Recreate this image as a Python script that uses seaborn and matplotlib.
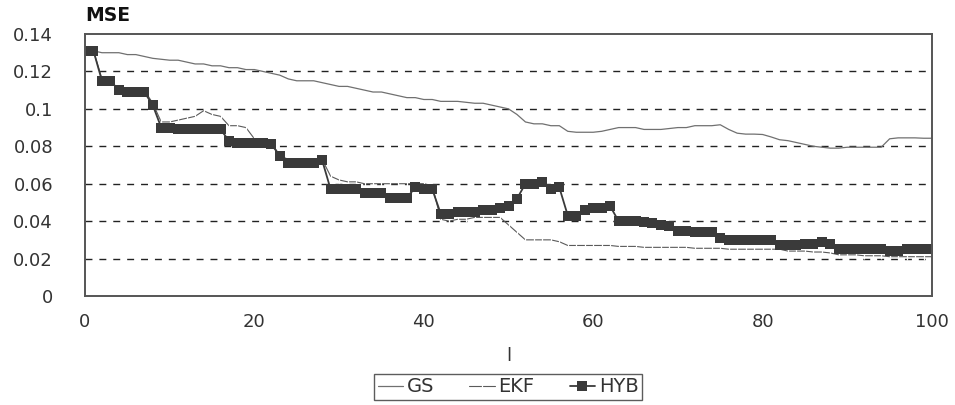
import numpy as np
import pandas as pd
import matplotlib
matplotlib.use("Agg")
import matplotlib.pyplot as plt
import seaborn as sns

x_vals = list(range(0, 101))

gs = [0.131, 0.131, 0.130, 0.130, 0.130, 0.129, 0.129, 0.128, 0.127, 0.1265,
      0.126, 0.126, 0.125, 0.124, 0.124, 0.123, 0.123, 0.122, 0.122, 0.121,
      0.121, 0.120, 0.119, 0.118, 0.116, 0.115, 0.115, 0.115, 0.114, 0.113,
      0.112, 0.112, 0.111, 0.110, 0.109, 0.109, 0.108, 0.107, 0.106, 0.106,
      0.105, 0.105, 0.104, 0.104, 0.104, 0.1035, 0.103, 0.103, 0.102, 0.101,
      0.100, 0.097, 0.093, 0.092, 0.092, 0.091, 0.091, 0.088, 0.0875, 0.0875,
      0.0875, 0.088, 0.089, 0.090, 0.090, 0.090, 0.089, 0.089, 0.089, 0.0895,
      0.090, 0.090, 0.091, 0.091, 0.091, 0.0915, 0.089, 0.087, 0.0865, 0.0865,
      0.0863, 0.085, 0.0835, 0.083, 0.082, 0.081, 0.080, 0.0795, 0.079, 0.079,
      0.0795, 0.0795, 0.0795, 0.0795, 0.0795, 0.084, 0.0845, 0.0845, 0.0845, 0.0843,
      0.0843]

ekf = [0.131, 0.131, 0.116, 0.115, 0.110, 0.110, 0.110, 0.110, 0.103, 0.093,
       0.093, 0.094, 0.095, 0.096, 0.099, 0.097, 0.096, 0.091, 0.091, 0.090,
       0.084, 0.083, 0.082, 0.075, 0.073, 0.073, 0.073, 0.073, 0.073, 0.064,
       0.062, 0.061, 0.061, 0.060, 0.060, 0.060, 0.060, 0.060, 0.060, 0.060,
       0.060, 0.059, 0.041, 0.040, 0.041, 0.041, 0.042, 0.042, 0.042, 0.042,
       0.038, 0.034, 0.030, 0.030, 0.030, 0.030, 0.029, 0.027, 0.027, 0.027,
       0.027, 0.027, 0.027, 0.0265, 0.0265, 0.0265, 0.026, 0.026, 0.026, 0.026,
       0.026, 0.026, 0.0255, 0.0255, 0.0255, 0.0255, 0.025, 0.025, 0.025, 0.025,
       0.025, 0.025, 0.025, 0.024, 0.024, 0.024, 0.0235, 0.0235, 0.023, 0.022,
       0.022, 0.022, 0.0215, 0.0215, 0.0215, 0.021, 0.021, 0.021, 0.021, 0.021,
       0.021]

hyb = [0.131, 0.131, 0.115, 0.115, 0.110, 0.109, 0.109, 0.109, 0.102, 0.090,
       0.090, 0.0895, 0.0895, 0.0895, 0.089, 0.089, 0.089, 0.083, 0.082, 0.082,
       0.082, 0.082, 0.081, 0.075, 0.071, 0.071, 0.071, 0.071, 0.0725, 0.057,
       0.057, 0.057, 0.057, 0.055, 0.055, 0.055, 0.0525, 0.0525, 0.0525, 0.058,
       0.057, 0.057, 0.044, 0.044, 0.045, 0.045, 0.045, 0.046, 0.046, 0.047,
       0.048, 0.052, 0.060, 0.060, 0.061, 0.057, 0.058, 0.043, 0.043, 0.046,
       0.047, 0.047, 0.048, 0.040, 0.040, 0.040, 0.0395, 0.039, 0.038, 0.0375,
       0.035, 0.035, 0.034, 0.034, 0.034, 0.031, 0.030, 0.030, 0.030, 0.030,
       0.030, 0.030, 0.027, 0.027, 0.027, 0.028, 0.028, 0.029, 0.028, 0.025,
       0.025, 0.025, 0.025, 0.025, 0.025, 0.024, 0.024, 0.025, 0.025, 0.025,
       0.025]

series_names = ["GS", "EKF", "HYB"]
y_ticks = [0, 0.02, 0.04, 0.06, 0.08, 0.1, 0.12, 0.14]
y_tick_labels = ["0", "0.02", "0.04", "0.06", "0.08", "0.1", "0.12", "0.14"]
x_ticks = [0, 20, 40, 60, 80, 100]

sns.set_theme(style="white")
plt.rcParams['font.family'] = ['DejaVu Sans']

fig = plt.figure(figsize=(9.55, 4.05), dpi=100)
ax = fig.add_axes([85/955, 1 - 296/405, (932-85)/955, (296-34)/405])

df = pd.DataFrame({"l": x_vals, "GS": gs, "EKF": ekf, "HYB": hyb})

sns.lineplot(data=df, x="l", y="GS", ax=ax, color="#707070", linewidth=0.9,
             label=series_names[0])
sns.lineplot(data=df, x="l", y="EKF", ax=ax, color="#5a5a5a", linewidth=0.8,
             marker="|", markersize=5, markeredgewidth=0.9, label=series_names[1])
sns.lineplot(data=df, x="l", y="HYB", ax=ax, color="#3a3a3a", linewidth=1.3,
             marker="s", markersize=7.5, markeredgewidth=0, label=series_names[2])

ax.set_xlim(0, 100)
ax.set_ylim(0, 0.14)
ax.set_yticks(y_ticks)
ax.set_yticklabels(y_tick_labels)
ax.set_xticks(x_ticks)
for v in y_ticks[1:-1]:
    ax.axhline(v, color="#222222", linestyle=(0, (5, 5)), linewidth=1.0, zorder=0)

for s in ax.spines.values():
    s.set_color("#555555")
    s.set_linewidth(1.4)

ax.tick_params(axis="y", labelsize=13, colors="#333333", length=0, pad=23)
ax.tick_params(axis="x", labelsize=13, colors="#333333", length=0, pad=12)
ax.set_xlabel("l", fontsize=13, color="#333333", labelpad=12)
ax.set_ylabel("")
ax.text(0.0, 1.035, "MSE", transform=ax.transAxes, fontsize=13.5,
        fontweight="bold", color="#111111", ha="left", va="bottom")

ax.get_legend().remove()
handles, labels = ax.get_legend_handles_labels()
leg = fig.legend(handles, labels, loc="center", bbox_to_anchor=(508/955, 1 - 387/405),
                 ncol=3, frameon=True, fancybox=False, fontsize=14,
                 handlelength=1.3, handletextpad=0.2, columnspacing=1.8,
                 borderpad=0.2, labelcolor="#333333")
leg.get_frame().set_edgecolor("#333333")
leg.get_frame().set_linewidth(1.0)

fig.savefig("out.png", dpi=100)
